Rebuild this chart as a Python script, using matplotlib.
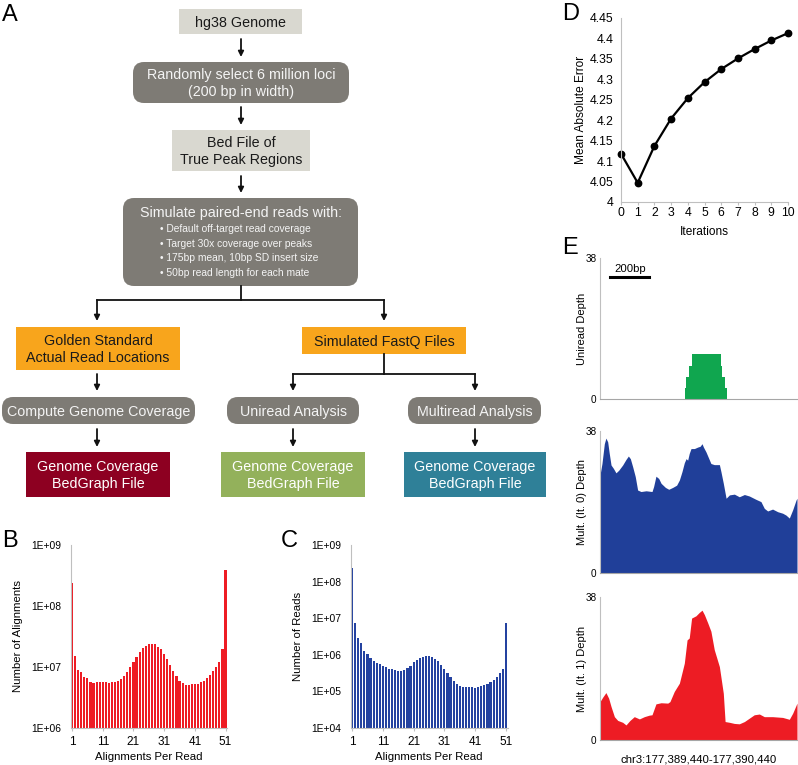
import matplotlib.pyplot as plt
from matplotlib.patches import FancyBboxPatch
from matplotlib.ticker import NullLocator

plt.rcParams['font.family'] = ['Liberation Sans', 'DejaVu Sans']

W, H = 798, 765

# ---- panel D: mean absolute error per iteration
iterations = list(range(11))
mae = [4.118, 4.047, 4.137, 4.204, 4.254, 4.293, 4.325, 4.351, 4.374, 4.395, 4.413]
mae_ticks = [4, 4.05, 4.1, 4.15, 4.2, 4.25, 4.3, 4.35, 4.4, 4.45]
mae_labels = ['4', '4.05', '4.1', '4.15', '4.2', '4.25', '4.3', '4.35', '4.4', '4.45']

# ---- panels B and C: alignments per read histograms
apr = list(range(1, 52))
apr_ticks = [1, 11, 21, 31, 41, 51]
align_counts = [2.4e8, 1.5e7, 9.0e6, 8.3e6, 6.8e6, 6.5e6, 5.6e6, 5.5e6, 5.6e6, 5.6e6,
                5.7e6, 5.7e6, 5.5e6, 5.6e6, 5.7e6, 5.9e6, 6.4e6, 7.1e6, 8.4e6, 1.0e7,
                1.22e7, 1.48e7, 1.78e7, 2.08e7, 2.25e7, 2.38e7, 2.4e7, 2.35e7, 2.15e7, 1.95e7,
                1.65e7, 1.35e7, 1.08e7, 8.6e6, 7.0e6, 5.9e6, 5.5e6, 5.1e6, 5.1e6, 5.2e6,
                5.2e6, 5.3e6, 5.6e6, 5.9e6, 6.5e6, 7.3e6, 8.5e6, 1.0e7, 1.22e7, 2.0e7,
                3.9e8]
read_counts = [2.4e8, 7.6e6, 2.9e6, 2.1e6, 1.3e6, 1.07e6, 8.2e5, 6.6e5, 5.9e5, 5.6e5,
               5.1e5, 4.6e5, 4.2e5, 4.0e5, 3.8e5, 3.7e5, 3.7e5, 3.9e5, 4.3e5, 5.1e5,
               6.2e5, 7.3e5, 8.2e5, 8.8e5, 9.0e5, 9.0e5, 8.6e5, 7.8e5, 6.6e5, 5.3e5,
               4.2e5, 3.2e5, 2.4e5, 1.9e5, 1.6e5, 1.4e5, 1.35e5, 1.3e5, 1.3e5, 1.28e5,
               1.27e5, 1.3e5, 1.4e5, 1.5e5, 1.6e5, 1.8e5, 2.1e5, 2.5e5, 3.1e5, 4.2e5,
               7.6e6]
b_ticks = [1e6, 1e7, 1e8, 1e9]
b_labels = ['1E+06', '1E+07', '1E+08', '1E+09']
c_ticks = [1e4, 1e5, 1e6, 1e7, 1e8, 1e9]
c_labels = ['1E+04', '1E+05', '1E+06', '1E+07', '1E+08', '1E+09']

# ---- panel E: coverage tracks (bp offset within chr3:177,389,440-177,390,440)
uni_pos = [431, 439, 452, 465, 614, 621, 635, 645]
uni_depth = [3, 6, 9, 12, 9, 6, 3, 0]
it0_pos = [0, 10, 22, 30, 39, 47, 56, 68, 81, 95, 115, 132, 144, 154, 166, 179, 191, 208,
           234, 264, 272, 284, 298, 310, 332, 349, 369, 389, 403, 416, 428, 437, 445, 453,
           462, 479, 496, 508, 518, 525, 538, 563, 580, 606, 614, 626, 640, 657, 682, 707,
           733, 758, 792, 817, 834, 851, 876, 902, 927, 944, 961, 978, 995, 1000]
it0_depth = [26.2, 29.3, 34.6, 36.1, 35.1, 32.0, 28.9, 28.0, 26.8, 27.5, 28.9, 30.4, 31.3,
             30.6, 28.4, 25.8, 22.2, 21.8, 22.0, 21.8, 23.1, 25.9, 25.3, 24.0, 22.9, 22.4,
             22.9, 23.5, 24.9, 27.1, 29.5, 30.6, 30.2, 32.0, 33.3, 33.3, 33.7, 33.9, 34.6,
             33.7, 32.4, 29.3, 29.0, 29.0, 27.1, 24.0, 20.0, 20.9, 21.1, 20.4, 21.0, 20.6,
             19.7, 19.1, 17.3, 16.6, 17.1, 16.4, 16.0, 15.5, 14.7, 16.9, 19.5, 20.0]
it1_pos = [0, 14, 30, 44, 56, 73, 90, 115, 132, 152, 174, 200, 225, 250, 264, 284, 310,
           344, 355, 377, 403, 428, 442, 453, 465, 487, 504, 518, 530, 547, 563, 580, 606,
           626, 635, 657, 682, 707, 733, 758, 783, 809, 834, 876, 927, 961, 978, 1000]
it1_depth = [10.2, 11.4, 12.6, 11.1, 8.9, 6.2, 5.2, 4.7, 4.0, 5.2, 6.2, 5.6, 6.2, 6.6,
             6.7, 9.6, 9.9, 9.8, 10.2, 12.9, 15.1, 20.4, 26.6, 27.1, 32.4, 33.0, 33.9,
             34.5, 33.3, 31.1, 28.9, 24.0, 19.5, 12.4, 4.9, 4.7, 4.4, 4.3, 4.9, 5.8, 6.7,
             6.9, 6.2, 6.2, 6.0, 5.5, 7.1, 9.8]

# ---- panel A: flowchart boxes (text, x0, y0, x1, y1, kind) in pixels
flow_boxes = [
    ('hg38 Genome', 179, 9, 302, 34, 'light'),
    ('Randomly select 6 million loci\n(200 bp in width)', 133, 62, 349, 103, 'dark'),
    ('Bed File of\nTrue Peak Regions', 172, 130, 310, 171, 'light'),
    ('', 123, 198, 358, 286, 'dark'),
    ('Golden Standard\nActual Read Locations', 16, 327, 180, 370, 'orange'),
    ('Simulated FastQ Files', 302, 327, 466, 354, 'orange'),
    ('Compute Genome Coverage', 2, 397, 195, 424, 'dark'),
    ('Uniread Analysis', 227, 397, 359, 424, 'dark'),
    ('Multiread Analysis', 408, 397, 541, 424, 'dark'),
    ('Genome Coverage\nBedGraph File', 26, 452, 170, 497, 'red'),
    ('Genome Coverage\nBedGraph File', 221, 452, 365, 497, 'green'),
    ('Genome Coverage\nBedGraph File', 404, 452, 546, 497, 'teal'),
]
sim_title = 'Simulate paired-end reads with:'
sim_bullets = ['• Default off-target read coverage',
               '• Target 30x coverage over peaks',
               '• 175bp mean, 10bp SD insert size',
               '• 50bp read length for each mate']

box_style = {
    'light': ('#d9d8d0', '#1a1a1a', False),
    'dark': ('#7e7b75', '#f4f4f4', True),
    'orange': ('#f8a51c', '#1a1a1a', False),
    'red': ('#8d0021', '#ffffff', False),
    'green': ('#93b15b', '#ffffff', False),
    'teal': ('#2f8098', '#ffffff', False),
}


def rect(x0, y0, x1, y1):
    return [x0 / W, 1 - y1 / H, (x1 - x0) / W, (y1 - y0) / H]


fig = plt.figure(figsize=(7.98, 7.65), dpi=100)

# flowchart canvas in pixel units
fa = fig.add_axes([0, 0, 1, 1])
fa.set_xlim(0, W)
fa.set_ylim(H, 0)
fa.axis('off')

for text, x0, y0, x1, y1, kind in flow_boxes:
    face, tcol, rounded = box_style[kind]
    style = 'round,pad=0,rounding_size=11' if rounded else 'square,pad=0'
    fa.add_patch(FancyBboxPatch((x0, y0), x1 - x0, y1 - y0, boxstyle=style,
                                facecolor=face, edgecolor='none'))
    if text:
        fa.text((x0 + x1) / 2, (y0 + y1) / 2 + 1, text, ha='center', va='center',
                fontsize=10.3, color=tcol, linespacing=1.2)

fa.text(240.5, 213, sim_title, ha='center', va='center', fontsize=10.3, color='#f4f4f4')
for i, b in enumerate(sim_bullets):
    fa.text(160, 229 + i * 14.7, b, ha='left', va='center', fontsize=7.4, color='#f4f4f4')


def arrow(x, y0, y1):
    fa.annotate('', xy=(x, y1), xytext=(x, y0),
                arrowprops=dict(arrowstyle='-|>', color='#111111', lw=1.3,
                                mutation_scale=8, shrinkA=0, shrinkB=0))


arrow(241, 39, 57)
arrow(241, 107, 125)
arrow(241, 176, 193)
fa.plot([241, 241], [286, 300], color='#111111', lw=1.3)
fa.plot([97, 384], [300, 300], color='#111111', lw=1.3)
arrow(97, 300, 321)
arrow(384, 300, 321)
arrow(97, 374, 391)
fa.plot([384, 384], [354, 374], color='#111111', lw=1.3)
fa.plot([293, 475], [374, 374], color='#111111', lw=1.3)
arrow(293, 374, 391)
arrow(475, 374, 391)
arrow(97, 429, 447)
arrow(293, 429, 447)
arrow(475, 429, 447)

# panel letters
for letter, x, y in [('A', 2, 21), ('B', 2, 547), ('C', 281, 547), ('D', 562, 20), ('E', 562, 254)]:
    fa.text(x, y, letter, fontsize=17, ha='left', va='baseline', color='black')

grey = '#bfbfbf'

# ---- B
axB = fig.add_axes(rect(70.5, 545, 227.1, 728))
axB.bar(apr, align_counts, width=0.7, color='#ee1c24')
axB.set_yscale('log')
axB.set_ylim(1e6, 1e9)
axB.set_xlim(0.5, 51.5)
axB.set_yticks(b_ticks)
axB.set_yticklabels(b_labels)
axB.set_xticks(apr_ticks)
axB.set_ylabel('Number of Alignments', fontsize=8.2)
axB.set_xlabel('Alignments Per Read', fontsize=8.2)

# ---- C
axC = fig.add_axes(rect(350.5, 545, 507.5, 728))
axC.bar(apr, read_counts, width=0.7, color='#2442a0')
axC.set_yscale('log')
axC.set_ylim(1e4, 1e9)
axC.set_xlim(0.5, 51.5)
axC.set_yticks(c_ticks)
axC.set_yticklabels(c_labels)
axC.set_xticks(apr_ticks)
axC.set_ylabel('Number of Reads', fontsize=8.2)
axC.set_xlabel('Alignments Per Read', fontsize=8.2)

for ax in [axB, axC]:
    ax.yaxis.set_minor_locator(NullLocator())
    for s in ['top', 'right']:
        ax.spines[s].set_visible(False)
    ax.spines['left'].set_color(grey)
    ax.spines['bottom'].set_color(grey)
    ax.tick_params(axis='y', length=0, pad=6.5, labelsize=7.4)
    ax.tick_params(axis='x', length=2.5, color=grey, pad=3.5, labelsize=8.5)
    ax.yaxis.set_label_coords(-0.303, 0.5)
    ax.xaxis.set_label_coords(0.5, -0.13)

# ---- D
axD = fig.add_axes(rect(621, 18, 788, 202))
axD.plot(iterations, mae, color='black', lw=1.6, marker='o', markersize=4.6, clip_on=False)
axD.set_xlim(0, 10)
axD.set_ylim(4, 4.45)
axD.set_xticks(iterations)
axD.set_yticks(mae_ticks)
axD.set_yticklabels(mae_labels)
axD.set_ylabel('Mean Absolute Error', fontsize=8.6)
axD.set_xlabel('Iterations', fontsize=8.6)
for s in ['top', 'right']:
    axD.spines[s].set_visible(False)
axD.spines['left'].set_color(grey)
axD.spines['bottom'].set_color(grey)
axD.tick_params(axis='y', length=0, pad=5.5, labelsize=8.8)
axD.tick_params(axis='x', length=2, color=grey, pad=1.5, labelsize=8.8)
axD.yaxis.set_label_coords(-0.204, 0.5)
axD.xaxis.set_label_coords(0.5, -0.13)

# ---- E
axE1 = fig.add_axes(rect(600, 258, 797, 399))
axE1.fill_between(uni_pos, uni_depth, step='post', color='#10a64f', lw=0)
axE1.plot([51, 251], [32.9, 32.9], color='black', lw=2.2)
axE1.text(151, 33.8, '200bp', ha='center', va='bottom', fontsize=8.2)
axE1.set_ylabel('Uniread Depth', fontsize=8)

axE2 = fig.add_axes(rect(600, 431, 797, 573))
axE2.fill_between(it0_pos, it0_depth, color='#203f99', lw=0)
axE2.set_ylabel('Mult. (It. 0) Depth', fontsize=8)

axE3 = fig.add_axes(rect(600, 597, 797, 740))
axE3.fill_between(it1_pos, it1_depth, color='#ed1c24', lw=0)
axE3.set_ylabel('Mult. (It. 1) Depth', fontsize=8)
axE3.set_xlabel('chr3:177,389,440-177,390,440', fontsize=8.2)
axE3.xaxis.set_label_coords(0.5, -0.1)

for ax in [axE1, axE2, axE3]:
    ax.set_xlim(0, 1000)
    ax.set_ylim(0, 38)
    ax.set_yticks([0, 38])
    ax.set_xticks([])
    for s in ['top', 'right']:
        ax.spines[s].set_visible(False)
    ax.spines['left'].set_color(grey)
    ax.spines['bottom'].set_color('#a6a6a6')
    ax.tick_params(axis='y', length=0, pad=2.5, labelsize=7.2)
    ax.yaxis.set_label_coords(-0.066, 0.5)

fig.savefig('out.png', dpi=100)
